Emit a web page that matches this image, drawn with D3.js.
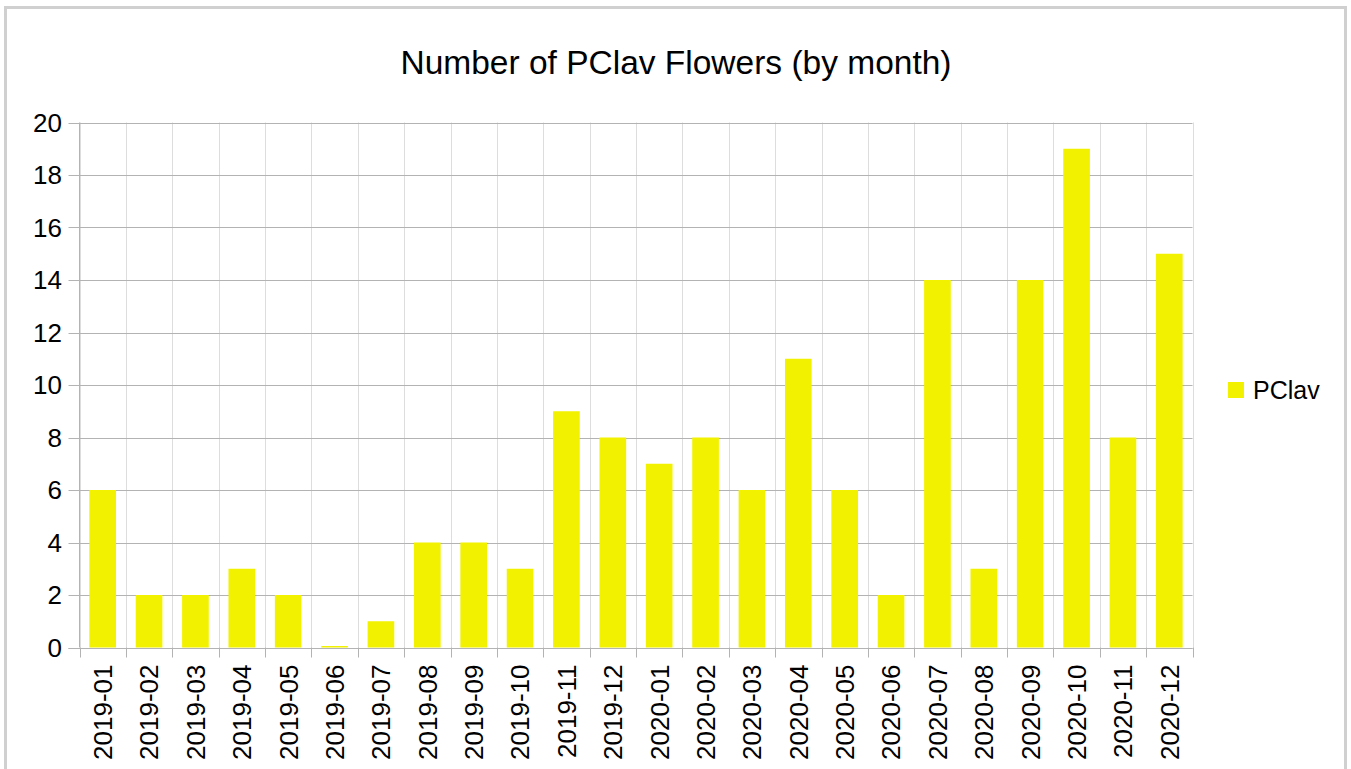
<!DOCTYPE html>
<html>
<head>
  <script src="https://cdn.jsdelivr.net/npm/d3@7"></script>
  <style>
    body { margin: 0; background: #fff; }
    text { font-family: "Liberation Sans", Arial, sans-serif; fill: #000; }
  </style>
</head>
<body>
<div id="chart"></div>
<script>
  var months = ['2019-01', '2019-02', '2019-03', '2019-04', '2019-05', '2019-06',
    '2019-07', '2019-08', '2019-09', '2019-10', '2019-11', '2019-12',
    '2020-01', '2020-02', '2020-03', '2020-04', '2020-05', '2020-06',
    '2020-07', '2020-08', '2020-09', '2020-10', '2020-11', '2020-12'];
  var flowers = [6, 2, 2, 3, 2, 0, 1, 4, 4, 3, 9, 8, 7, 8, 6, 11, 6, 2, 14, 3, 14, 19, 8, 15];
  var yTicks = [0, 2, 4, 6, 8, 10, 12, 14, 16, 18, 20];
  var seriesName = 'PClav';
  var title = 'Number of PClav Flowers (by month)';

  var width = 1351, height = 769;
  var plotLeft = 79.5, plotRight = 1192.5, plotTop = 122.5, plotBottom = 647.5;
  var barColor = '#f2f200';

  var svg = d3.select('#chart').append('svg')
      .attr('width', width)
      .attr('height', height)
      .style('display', 'block');

  // outer frame
  svg.append('rect')
      .attr('x', 5.5).attr('y', 7.5)
      .attr('width', 1340).attr('height', 800)
      .attr('fill', '#fff')
      .attr('stroke', '#d0d0d0')
      .attr('stroke-width', 3);

  var x = d3.scaleBand().domain(months).range([plotLeft, plotRight]).paddingInner(0.425).paddingOuter(0.2125);
  var xEdges = d3.scaleLinear().domain([0, months.length]).range([plotLeft, plotRight]);
  var y = d3.scaleLinear().domain([0, 20]).range([plotBottom, plotTop]);

  // vertical grid
  svg.append('g').selectAll('line').data(d3.range(months.length + 1))
    .enter().append('line')
      .attr('x1', function(d) { return Math.round(xEdges(d)) + 0.5; })
      .attr('x2', function(d) { return Math.round(xEdges(d)) + 0.5; })
      .attr('y1', plotTop).attr('y2', plotBottom)
      .attr('stroke', '#dddddd');

  // horizontal grid
  svg.append('g').selectAll('line').data(yTicks)
    .enter().append('line')
      .attr('x1', plotLeft - 11).attr('x2', plotRight)
      .attr('y1', function(d) { return Math.round(y(d)) + 0.5; })
      .attr('y2', function(d) { return Math.round(y(d)) + 0.5; })
      .attr('stroke', '#b3b3b3');

  // bars
  svg.append('g').selectAll('rect').data(flowers)
    .enter().append('rect')
      .attr('x', function(d, i) { return x(months[i]); })
      .attr('width', x.bandwidth())
      .attr('y', function(d) { return d === 0 ? y(0) - 1.5 : y(d); })
      .attr('height', function(d) { return d === 0 ? 1.5 : y(0) - y(d); })
      .attr('fill', barColor);

  // axis lines
  svg.append('line')
      .attr('x1', plotLeft).attr('x2', plotLeft).attr('y1', plotTop).attr('y2', plotBottom)
      .attr('stroke', '#b3b3b3');
  svg.append('line')
      .attr('x1', plotLeft - 11).attr('x2', plotRight)
      .attr('y1', Math.round(y(0)) + 0.5).attr('y2', Math.round(y(0)) + 0.5)
      .attr('stroke', '#b3b3b3');

  // x tick marks
  svg.append('g').selectAll('line').data(d3.range(months.length + 1))
    .enter().append('line')
      .attr('x1', function(d) { return Math.round(xEdges(d)) + 0.5; })
      .attr('x2', function(d) { return Math.round(xEdges(d)) + 0.5; })
      .attr('y1', plotBottom).attr('y2', plotBottom + 10)
      .attr('stroke', '#b3b3b3');

  // y labels
  svg.append('g').selectAll('text').data(yTicks)
    .enter().append('text')
      .attr('x', 62)
      .attr('y', function(d) { return y(d); })
      .attr('dy', '0.36em')
      .attr('text-anchor', 'end')
      .style('font-size', '26px')
      .text(function(d) { return d; });

  // x labels
  svg.append('g').selectAll('text').data(months)
    .enter().append('text')
      .attr('transform', function(d) {
        return 'translate(' + (x(d) + x.bandwidth() / 2) + ',' + (plotBottom + 17) + ') rotate(-90)';
      })
      .attr('dy', '0.36em')
      .attr('text-anchor', 'end')
      .style('font-size', '26px')
      .text(function(d) { return d; });

  // title
  svg.append('text')
      .attr('x', 676).attr('y', 74)
      .attr('text-anchor', 'middle')
      .style('font-size', '33.5px')
      .text(title);

  // legend
  svg.append('rect')
      .attr('x', 1228).attr('y', 382)
      .attr('width', 16).attr('height', 16)
      .attr('fill', barColor);
  svg.append('text')
      .attr('x', 1253).attr('y', 390)
      .attr('dy', '0.36em')
      .style('font-size', '25px')
      .text(seriesName);
</script>
</body>
</html>
